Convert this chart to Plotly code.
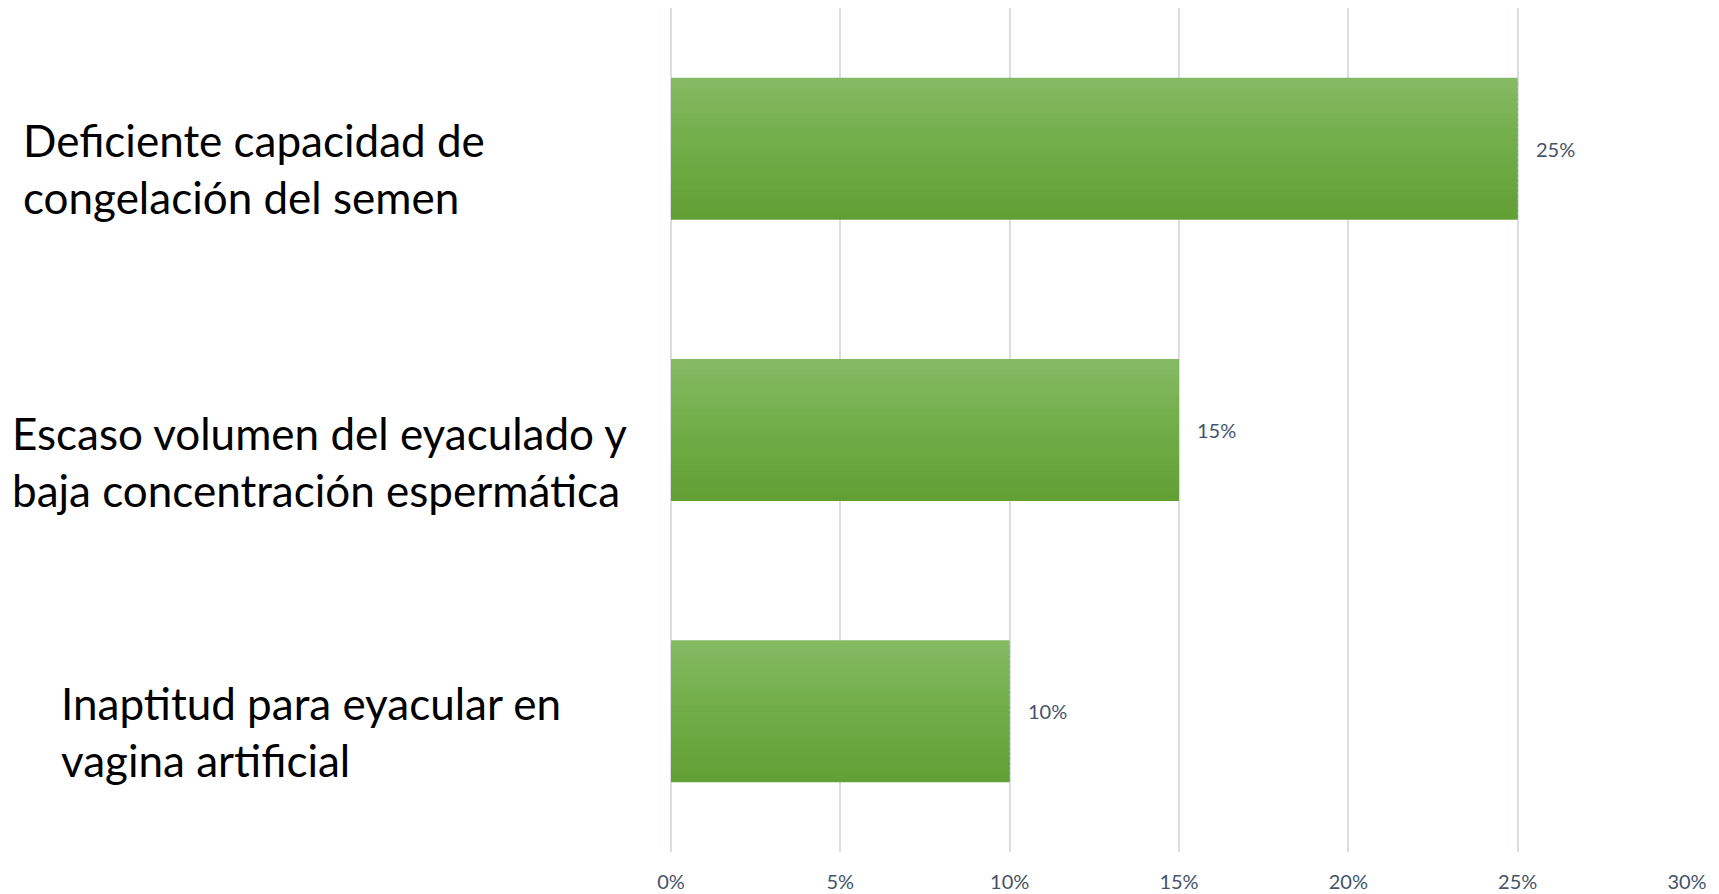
import plotly.graph_objects as go

categories = [
    "Deficiente capacidad de<br>congelación del semen",
    "Escaso volumen del eyaculado y<br>baja concentración espermática",
    "Inaptitud para eyacular en<br>vagina artificial",
]
values = [0.25, 0.15, 0.10]
value_labels = ["25%", "15%", "10%"]
tick_vals = [0, 0.05, 0.10, 0.15, 0.20, 0.25, 0.30]
tick_text = ["0%", "5%", "10%", "15%", "20%", "25%", "30%"]

W, H = 1719, 894
ML, MR, MT, MB = 671, 32, 8, 42

fig = go.Figure()

# gradient fill: stack thin horizontal strips of the same bar
N = 28
bar_w = 0.505
top_c = (133, 186, 99)
mid_c = (112, 173, 71)
bot_c = (98, 160, 54)


def lerp(a, b, t):
    return tuple(round(a[i] + (b[i] - a[i]) * t) for i in range(3))


for k in range(N):
    t = k / (N - 1)
    c = lerp(top_c, mid_c, t * 2) if t < 0.5 else lerp(mid_c, bot_c, (t - 0.5) * 2)
    strip = bar_w / N
    fig.add_trace(go.Bar(
        x=values,
        y=categories,
        orientation="h",
        width=strip * (1.0 if k == N - 1 else 1.6),
        offset=-bar_w / 2 + k * strip,
        marker=dict(color="rgb(%d,%d,%d)" % c, line=dict(width=0)),
        showlegend=False,
        hoverinfo="skip" if k else "x+y",
    ))

# value labels
for cat, v, lab in zip(categories, values, value_labels):
    fig.add_annotation(
        x=v, y=cat, xref="x", yref="y", text=lab, showarrow=False,
        xanchor="left", yanchor="middle", xshift=16,
        font=dict(family="Lato", size=20, color="#44546A"),
    )

# category labels (left-aligned text blocks)
label_px = [21, 10, 59]
label_shift = [-20, -31, -20]
for cat, px, ys in zip(categories, label_px, label_shift):
    fig.add_annotation(
        x=(px - ML) / (W - ML - MR), y=cat, xref="paper", yref="y",
        text=cat, showarrow=False, xanchor="left", yanchor="middle",
        align="left", yshift=ys,
        font=dict(family="Lato", size=44, color="#000000"),
    )

fig.update_layout(
    width=W, height=H,
    margin=dict(l=ML, r=MR, t=MT, b=MB, autoexpand=False),
    paper_bgcolor="white", plot_bgcolor="white",
    barmode="overlay",
    xaxis=dict(
        range=[0, 0.30], tickvals=tick_vals, ticktext=tick_text,
        automargin=False,
        showgrid=True, gridcolor="#D9DEE5", gridwidth=2,
        zeroline=True, zerolinecolor="#D9DEE5", zerolinewidth=2,
        showline=False, ticks="", ticklabelstandoff=16,
        tickfont=dict(family="Lato", size=20, color="#44546A"),
    ),
    yaxis=dict(
        categoryorder="array", categoryarray=categories,
        range=[2.5, -0.5], showticklabels=False, showgrid=False,
        automargin=False,
        zeroline=False, showline=False, ticks="",
    ),
)

fig.write_html("out.html")
